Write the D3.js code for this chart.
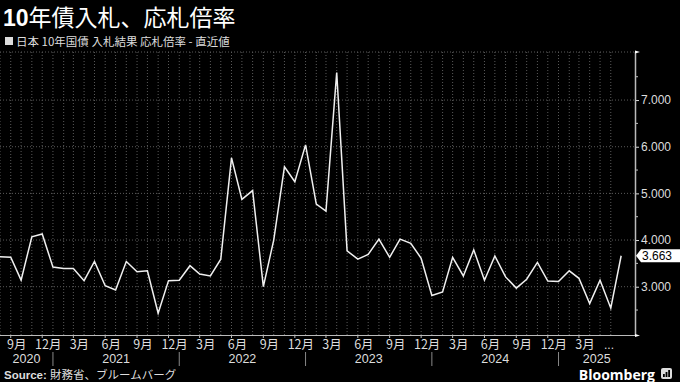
<!DOCTYPE html>
<html><head><meta charset="utf-8">
<script src="https://cdn.jsdelivr.net/npm/d3@7"></script>
<style>
html,body{margin:0;padding:0;background:#000;}
svg{display:block;}
text{font-family:"Liberation Sans","Noto Sans CJK JP",sans-serif;}
</style></head>
<body><svg id="c" width="680" height="382"></svg>
<script>
const months = [
 "2020-08","2020-09","2020-10","2020-11","2020-12",
 "2021-01","2021-02","2021-03","2021-04","2021-05","2021-06","2021-07","2021-08","2021-09","2021-10","2021-11","2021-12",
 "2022-01","2022-02","2022-03","2022-04","2022-05","2022-06","2022-07","2022-08","2022-09","2022-10","2022-11","2022-12",
 "2023-01","2023-02","2023-03","2023-04","2023-05","2023-06","2023-07","2023-08","2023-09","2023-10","2023-11","2023-12",
 "2024-01","2024-02","2024-03","2024-04","2024-05","2024-06","2024-07","2024-08","2024-09","2024-10","2024-11","2024-12",
 "2025-01","2025-02","2025-03","2025-04","2025-05","2025-06","2025-07"];
const bidToCover = [
 3.64,3.63,3.14,4.07,4.13,
 3.42,3.39,3.39,3.13,3.54,3.02,2.93,3.54,3.32,3.34,2.43,3.13,
 3.14,3.45,3.27,3.23,3.59,5.76,4.87,5.06,3.00,4.00,5.57,5.25,
 6.04,4.77,4.62,7.59,3.77,3.59,3.69,4.02,3.63,4.02,3.93,3.61,
 2.81,2.89,3.63,3.23,3.79,3.14,3.66,3.21,2.97,3.16,3.52,3.12,
 3.11,3.34,3.18,2.64,3.14,2.54,3.663];
const yTicks = [3,4,5,6,7];
const monthTickLabels = ["2020-09","2020-12","2021-03","2021-06","2021-09","2021-12","2022-03","2022-06","2022-09","2022-12","2023-03","2023-06","2023-09","2023-12","2024-03","2024-06","2024-09","2024-12","2025-03"];
const years = ["2020","2021","2022","2023","2024","2025"];
const title = "10年債入札、応札倍率";
const subtitle = "日本 10年国債 入札結果 応札倍率 - 直近値";
const source = "財務省、ブルームバーグ";

const parse = d3.timeParse("%Y-%m");
const data = months.map((m,i)=>({date:parse(m), v:bidToCover[i]}));

const svg = d3.select("#c");
svg.append("rect").attr("width",680).attr("height",382).attr("fill","#000");

const L=0, R=635, T=52, B=335;
const x = d3.scaleTime().domain([new Date(2020,7,1), new Date(2025,7,10)]).range([L,R]);
const y = d3.scaleLinear().domain([1.965, 8.03]).range([B,T]);

// Title
const tt = svg.append("text").attr("x",3).attr("y",26).attr("fill","#fff").style("font-size","23px");
tt.append("tspan").attr("font-weight","bold").text(title.slice(0,2));
tt.append("tspan").style("font-family","'Noto Sans CJK JP'").text(title.slice(2));
svg.append("rect").attr("x",5).attr("y",37).attr("width",8).attr("height",8).attr("fill","#ddd");
svg.append("text").attr("x",16).attr("y",45.5).attr("fill","#ddd").style("font-size","11.5px")
  .style("font-family","'Noto Sans CJK JP'").text(subtitle);

// Grid
const g = svg.append("g");
const gridMonths = data.slice(0,-1).map(d=>d.date);
g.selectAll("line.vg").data(gridMonths).join("line").attr("class","vg")
  .attr("x1",d=>x(d)).attr("x2",d=>x(d)).attr("y1",T).attr("y2",B)
  .attr("stroke","#5a5a5a").attr("stroke-dasharray","1,2");
g.selectAll("line.hg").data(yTicks.concat([8.03])).join("line").attr("class","hg")
  .attr("x1",L).attr("x2",R).attr("y1",d=>y(d)).attr("y2",d=>y(d))
  .attr("stroke","#5a5a5a").attr("stroke-dasharray","1,2");

// bottom axis line
svg.append("line").attr("x1",L).attr("x2",R).attr("y1",B+0.5).attr("y2",B+0.5).attr("stroke","#bbb").attr("stroke-width",1);

// month labels
const monthDates = monthTickLabels.map(m=>{const d=parse(m); return new Date(d.getFullYear(), d.getMonth(), 17);});
const xAxisM = d3.axisBottom(x).tickValues(monthDates).tickSize(0).tickPadding(4)
  .tickFormat(d=>(d.getMonth()+1)+"月");
const ga = svg.append("g").attr("transform",`translate(0,${B+1})`).call(xAxisM);
ga.select(".domain").remove();
ga.selectAll("text").attr("fill","#ddd").style("font-size","12.5px").style("font-family","'Noto Sans CJK JP'");
// small ticks at labeled months
svg.selectAll("line.mt").data(monthTickLabels.map(parse)).join("line").attr("class","mt")
  .attr("x1",d=>x(d)).attr("x2",d=>x(d)).attr("y1",B).attr("y2",B+3).attr("stroke","#bbb");
svg.append("text").attr("x",609).attr("y",349).attr("text-anchor","middle").attr("fill","#ddd")
  .style("font-size","12px").text("...");

// years
const yearMid = years.map((yr,i)=>{
  const a = Math.max(x(new Date(+yr,0,1)), L);
  const b = Math.min(x(new Date(+yr+1,0,1)), R);
  return (a+b)/2;
});
const ya = svg.append("g").attr("transform",`translate(0,${B+15})`);
ya.selectAll("text").data(years).join("text")
  .attr("x",(d,i)=>yearMid[i]).attr("y",12.5).attr("text-anchor","middle")
  .attr("fill","#ddd").style("font-size","12.5px").text(d=>d);
svg.selectAll("line.ys").data(years.slice(1)).join("line").attr("class","ys")
  .attr("x1",d=>x(new Date(+d,0,1))).attr("x2",d=>x(new Date(+d,0,1)))
  .attr("y1",352).attr("y2",366).attr("stroke","#888");

// right axis
const yAxis = d3.axisRight(y).tickValues(yTicks).tickSize(4).tickPadding(2).tickFormat(d3.format(".3f"));
const gy = svg.append("g").attr("transform",`translate(${R},0)`).call(yAxis);
gy.select(".domain").remove();
gy.selectAll("line").attr("stroke","#ddd");
gy.selectAll("text").attr("fill","#ddd").style("font-size","12px").style("font-family","'Liberation Sans'");
svg.append("line").attr("x1",R+0.5).attr("x2",R+0.5).attr("y1",T).attr("y2",B+1).attr("stroke","#bbb").attr("stroke-width",1.5);
svg.selectAll("line.minor").data(d3.range(2.5,8,1)).join("line").attr("class","minor")
  .attr("x1",R).attr("x2",R+3).attr("y1",d=>y(d)).attr("y2",d=>y(d)).attr("stroke","#bbb");
svg.append("path").attr("d",`M${R},${T-1.5}L${R+5},${T}L${R},${T+1.5}Z`).attr("fill","#fff");
svg.append("path").attr("d",`M${R},${B-1}L${R+5},${B+0.5}L${R},${B+2}Z`).attr("fill","#fff");

// line
const line = d3.line().x(d=>x(d.date)).y(d=>y(d.v));
svg.append("path").datum(data).attr("d",line).attr("fill","none").attr("stroke","#f0f0f0").attr("stroke-width",1.5).attr("stroke-linejoin","miter");

// last value label
const last = data[data.length-1];
const ly = y(last.v);
svg.append("path").attr("d",`M${R+1},${ly}L${R+6},${ly-6.5}L680,${ly-6.5}L680,${ly+6.5}L${R+6},${ly+6.5}Z`).attr("fill","#fff");
svg.append("text").attr("x",R+7).attr("y",ly+4.3).attr("fill","#000").style("font-size","12px")
  .text(d3.format(".3f")(last.v));

// source
const st = svg.append("text").attr("x",4).attr("y",378.5).attr("fill","#ddd").style("font-size","11.5px");
st.append("tspan").attr("font-weight","bold").text("Source: ");
st.append("tspan").style("font-family","'Noto Sans CJK JP'").text(source);

// Bloomberg logo
svg.append("text").attr("x",655).attr("y",379.5).attr("text-anchor","end").attr("fill","#fff")
  .attr("font-weight","bold").style("font-size","14px").style("font-family","'Open Sans','Liberation Sans'").text("Bloomberg");
svg.append("rect").attr("x",661).attr("y",368).attr("width",11).attr("height",11).attr("rx",2).attr("fill","#ddd");
svg.selectAll("rect.bar").data([3,5,7]).join("rect").attr("class","bar")
  .attr("x",(d,i)=>663+i*2.6).attr("y",d=>377-d).attr("width",1.8).attr("height",d=>d).attr("fill","#000");
</script></body></html>
